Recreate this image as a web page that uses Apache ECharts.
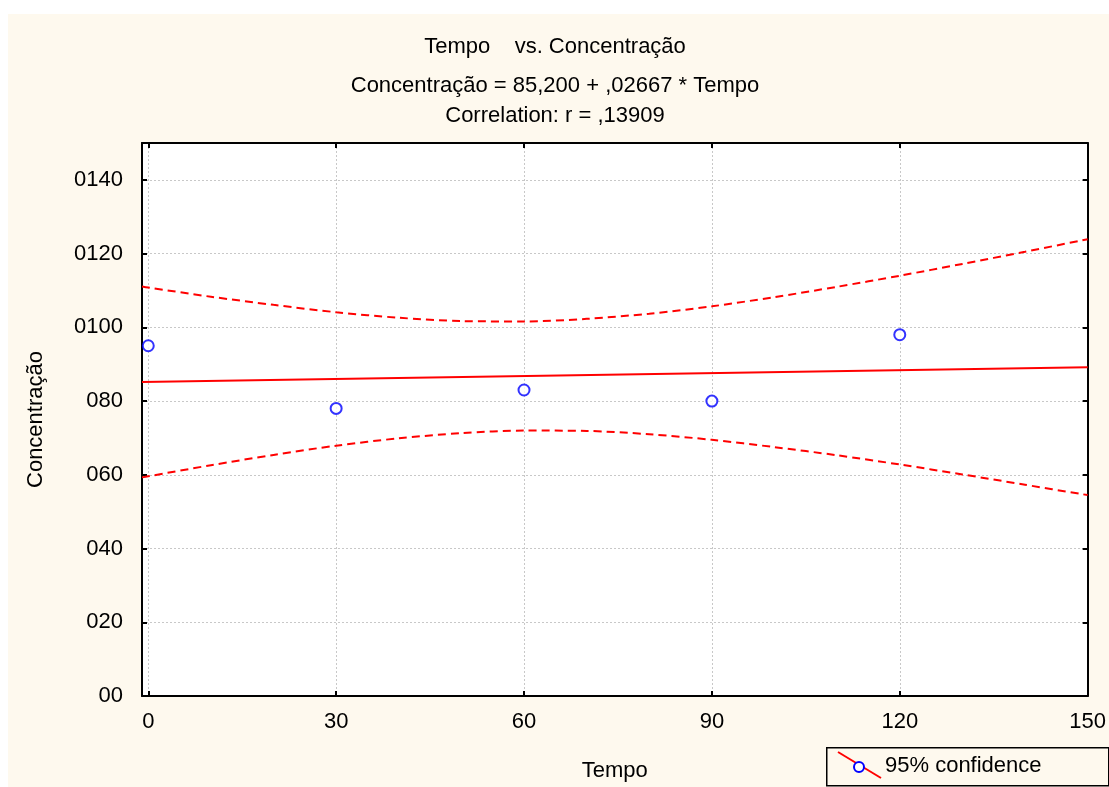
<!DOCTYPE html>
<html>
<head>
<meta charset="utf-8">
<script src="https://cdn.jsdelivr.net/npm/echarts@6/dist/echarts.min.js"></script>
<style>
	html, body {
		margin: 0;
		padding: 0;
		background: #fff;
	}
	#chart {
		position: absolute;
		left: 8px;
		top: 14px;
		width: 1101px;
		height: 773px;
	}
</style>
</head>
<body>
<div id="chart"></div>
<script>
// pontos observados
const tempo = [0, 30, 60, 90, 120]
const concentracao = [95, 78, 83, 80, 98]

// reta ajustada (extremos)
const fitX = [-1, 150]
const fitY = [85.17, 89.2]

// faixa de confiança 95%
const bandX = [-1, 0, 10, 20, 30, 40, 50, 60, 70, 80, 90, 100, 110, 120, 130, 140, 150]
const bandUpper = [111.1, 110.8, 108.3, 106.1, 104.1, 102.6, 101.7, 101.6, 102.3, 103.7, 105.7, 108.2, 111.0, 114.0, 117.2, 120.5, 123.9]
const bandLower = [59.3, 59.6, 62.6, 65.4, 67.9, 69.9, 71.3, 72.0, 71.9, 71.0, 69.5, 67.5, 65.3, 62.8, 60.1, 57.3, 54.5]

// rótulos dos eixos
const xTicks = [0, 30, 60, 90, 120, 150]
const yTicks = [0, 20, 40, 60, 80, 100, 120, 140]

const font = '"Liberation Sans", Arial, sans-serif'
const fs = 22
const pairs = (xs, ys) => xs.map((x, i) => [x, ys[i]])

const myChart = echarts.init(document.getElementById('chart'))

const axisLine = { show: true, onZero: false, lineStyle: { color: '#000', width: 2 } }
const splitLine = { show: true, lineStyle: { color: '#c8c8c8', type: [2, 2], width: 1 } }
const tick = (values) => ({
	show: true,
	inside: true,
	length: 5,
	customValues: values,
	lineStyle: { color: '#000', width: 2 },
})

const option = {
	animation: false,
	backgroundColor: '#fef9ee',
	textStyle: { fontFamily: font },
	title: [
		{ text: 'Tempo    vs. Concentração', top: 17 },
		{ text: 'Concentração = 85,200 + ,02667 * Tempo', top: 56 },
		{ text: 'Correlation: r = ,13909', top: 86 },
	].map((t) => ({
		...t,
		left: 542,
		textAlign: 'center',
		textStyle: { fontSize: fs, fontWeight: 'normal', color: '#000', fontFamily: font },
	})),
	grid: {
		left: 134,
		right: 19,
		top: 129,
		bottom: 90,
		show: true,
		backgroundColor: '#fff',
		borderWidth: 0,
	},
	xAxis: [
		{
			type: 'value',
			min: -1,
			max: 150,
			name: 'Tempo',
			nameLocation: 'middle',
			nameGap: 64,
			nameTextStyle: { fontSize: fs, color: '#000', fontFamily: font },
			axisLine,
			axisTick: tick(xTicks),
			axisLabel: { customValues: xTicks, fontSize: fs, color: '#000', margin: 15, fontFamily: font },
			splitLine,
		},
		{
			type: 'value',
			position: 'top',
			min: -1,
			max: 150,
			axisLine,
			axisTick: tick(xTicks),
			axisLabel: { show: false },
			splitLine: { show: false },
		},
	],
	yAxis: [
		{
			type: 'value',
			min: 0,
			max: 150,
			name: 'Concentração',
			nameLocation: 'middle',
			nameGap: 95,
			nameTextStyle: { fontSize: fs, color: '#000', fontFamily: font },
			axisLine,
			axisTick: tick(yTicks),
			axisLabel: {
				customValues: yTicks,
				fontSize: fs,
				color: '#000',
				margin: 19,
				fontFamily: font,
				formatter: (v) => '0' + v,
			},
			splitLine,
		},
		{
			type: 'value',
			position: 'right',
			min: 0,
			max: 150,
			axisLine,
			axisTick: tick(yTicks),
			axisLabel: { show: false },
			splitLine: { show: false },
		},
	],
	series: [
		{
			name: 'upper',
			type: 'line',
			data: pairs(bandX, bandUpper),
			symbol: 'none',
			smooth: 0.3,
			lineStyle: { color: '#ff0000', width: 2, type: [8, 5] },
		},
		{
			name: 'lower',
			type: 'line',
			data: pairs(bandX, bandLower),
			symbol: 'none',
			smooth: 0.3,
			lineStyle: { color: '#ff0000', width: 2, type: [8, 5] },
		},
		{
			name: 'fit',
			type: 'line',
			data: pairs(fitX, fitY),
			symbol: 'none',
			lineStyle: { color: '#ff0000', width: 2 },
		},
		{
			name: '95% confidence',
			type: 'scatter',
			data: pairs(tempo, concentracao),
			symbol: 'emptyCircle',
			symbolSize: 11,
			itemStyle: { color: '#0000ff', borderColor: '#0000ff', borderWidth: 2 },
			z: 5,
		},
	],
	// legenda desenhada à mão (linha + círculo)
	graphic: [
		{
			type: 'rect',
			left: 818,
			top: 733,
			shape: { width: 282, height: 38 },
			style: { fill: '#fef9ee', stroke: '#000', lineWidth: 1.5 },
		},
		{
			type: 'line',
			shape: { x1: 830, y1: 738, x2: 873, y2: 764 },
			style: { stroke: '#ff0000', lineWidth: 2 },
		},
		{
			type: 'circle',
			shape: { cx: 851, cy: 753, r: 5 },
			style: { fill: '#fff', stroke: '#0000ff', lineWidth: 2 },
		},
		{
			type: 'text',
			left: 877,
			top: 741,
			style: { text: '95% confidence', fill: '#000', font: fs + 'px ' + font },
		},
	],
}

myChart.setOption(option)
</script>
</body>
</html>
